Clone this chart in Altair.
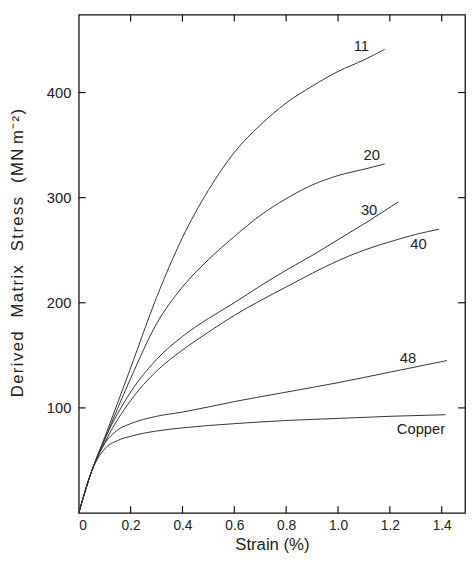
import altair as alt
import pandas as pd

# ---- data ----
strain_11 = [0, 0.05, 0.10, 0.20, 0.30, 0.40, 0.50, 0.60, 0.70, 0.80, 0.90, 1.00, 1.10, 1.18]
stress_11 = [0, 40, 72, 138, 205, 262, 307, 343, 369, 390, 406, 420, 431, 441]

strain_20 = [0, 0.05, 0.10, 0.20, 0.30, 0.40, 0.50, 0.60, 0.70, 0.80, 0.90, 1.00, 1.10, 1.18]
stress_20 = [0, 40, 70, 128, 180, 215, 241, 263, 283, 299, 312, 321, 327, 332]

strain_30 = [0, 0.05, 0.10, 0.20, 0.30, 0.40, 0.50, 0.60, 0.70, 0.80, 0.90, 1.00, 1.10, 1.233]
stress_30 = [0, 40, 70, 115, 146, 168, 185, 200, 216, 231, 245, 260, 275, 296]

strain_40 = [0, 0.05, 0.10, 0.20, 0.30, 0.40, 0.50, 0.60, 0.70, 0.80, 0.90, 1.00, 1.10, 1.20, 1.30, 1.39]
stress_40 = [0, 40, 67, 107, 135, 155, 172, 188, 202, 215, 228, 240, 250, 258, 265, 270]

strain_48 = [0, 0.05, 0.10, 0.15, 0.20, 0.30, 0.40, 0.60, 0.80, 1.00, 1.20, 1.42]
stress_48 = [0, 40, 66, 79, 85, 92, 96, 106, 115, 124, 134, 145]

strain_cu = [0, 0.05, 0.10, 0.15, 0.20, 0.30, 0.40, 0.60, 0.80, 1.00, 1.20, 1.415]
stress_cu = [0, 40, 61, 69, 73, 78, 81, 85, 88, 90, 92, 93.5]

series_names = ["11", "20", "30", "40", "48", "Copper"]

label_text = ["11", "20", "30", "40", "48", "Copper"]
label_x = [1.09, 1.13, 1.12, 1.31, 1.27, 1.32]
label_y = [444, 340, 288, 256, 147, 80]

x_ticks = [0, 0.2, 0.4, 0.6, 0.8, 1.0, 1.2, 1.4]
y_ticks = [100, 200, 300, 400]

# ---- build tables ----
rows = []
for name, xs, ys in zip(series_names,
                        [strain_11, strain_20, strain_30, strain_40, strain_48, strain_cu],
                        [stress_11, stress_20, stress_30, stress_40, stress_48, stress_cu]):
    for i, (a, b) in enumerate(zip(xs, ys)):
        rows.append({"series": name, "strain": a, "stress": b, "order": i})
df = pd.DataFrame(rows)
lab = pd.DataFrame({"text": label_text, "strain": label_x, "stress": label_y})
xt = pd.DataFrame({"strain": x_ticks[1:]})
yt = pd.DataFrame({"stress": y_ticks})

FONT = "Liberation Sans"
TXT = "#222222"
INK = "#111111"
W, H = 393, 507

x_scale = alt.Scale(domain=[0, 1.49], nice=False, zero=False)
y_scale = alt.Scale(domain=[0, 474], nice=False)


def spaced(word):
    return "\u200a".join(word)


GAP = "\u00a0\u00a0\u00a0"
ytitle = GAP.join([spaced("Derived"), spaced("Matrix"), spaced("Stress"),
                   spaced("(MN") + "\u00a0" + spaced("m\u207b\u00b2)")])

x_axis = alt.Axis(orient="bottom", values=x_ticks, ticks=False, domain=False,
                  grid=False, labelPadding=6, labelFontSize=14,
                  labelExpr="datum.value == 0 ? '0' : format(datum.value, '.1f')",
                  title="Strain\u00a0(%)", titlePadding=4, titleFontSize=17)
y_axis = alt.Axis(orient="left", values=y_ticks, ticks=False, domain=False,
                  grid=False, labelPadding=8, labelFontSize=15,
                  title=ytitle, titleY=242, titlePadding=20, titleFontSize=17)

X = lambda: alt.X("strain:Q", scale=x_scale, axis=x_axis)
Y = lambda: alt.Y("stress:Q", scale=y_scale, axis=y_axis)

lines = alt.Chart(df).mark_line(color="#333333", strokeWidth=1, interpolate="monotone").encode(
    x=X(), y=Y(), detail="series:N", order="order:Q",
)

labels = alt.Chart(lab).mark_text(font=FONT, fontSize=15, color=TXT).encode(
    x=X(), y=Y(), text="text:N",
)

tick_bottom = alt.Chart(xt).mark_rule(color=INK, strokeWidth=1.2).encode(
    x=X(), y=alt.value(H), y2=alt.value(H - 7))
tick_top = alt.Chart(xt).mark_rule(color=INK, strokeWidth=1.2).encode(
    x=X(), y=alt.value(0), y2=alt.value(7))
tick_left = alt.Chart(yt).mark_rule(color=INK, strokeWidth=1.2).encode(
    y=Y(), x=alt.value(0), x2=alt.value(7))
tick_right = alt.Chart(yt).mark_rule(color=INK, strokeWidth=1.2).encode(
    y=Y(), x=alt.value(W), x2=alt.value(W - 7))

chart = alt.layer(lines, labels, tick_bottom, tick_top, tick_left, tick_right).properties(
    width=W,
    height=H,
    autosize=alt.AutoSizeParams(type="none"),
    padding={"left": 72, "top": 2, "right": 2, "bottom": 45},
).configure_view(
    stroke=INK, strokeWidth=1.3
).configure_axis(
    labelFont=FONT, titleFont=FONT, labelColor=TXT, titleColor=TXT,
    titleFontWeight="normal",
)

chart.save("out.html", embed_options={"renderer": "svg", "actions": False})
